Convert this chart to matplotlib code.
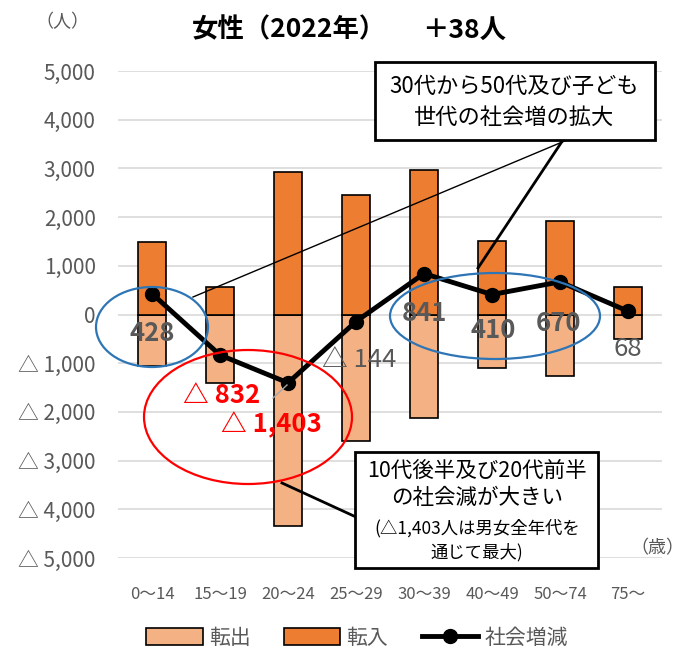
import matplotlib
matplotlib.use("Agg")
import matplotlib.pyplot as plt
from matplotlib.patches import Ellipse, Rectangle
from matplotlib.lines import Line2D
from matplotlib.ticker import FuncFormatter

plt.rcParams['font.family'] = ['Noto Sans CJK JP', 'DejaVu Sans']

# Age groups and migration counts (women, 2022)
age_groups = ["0～14", "15～19", "20～24", "25～29", "30～39", "40～49", "50～74", "75～"]
moved_out = [-1052, -1402, -4333, -2604, -2119, -1100, -1260, -502]
moved_in = [1480, 570, 2930, 2460, 2960, 1510, 1930, 570]
net_change = [428, -832, -1403, -144, 841, 410, 670, 68]
y_ticks = [5000, 4000, 3000, 2000, 1000, 0, -1000, -2000, -3000, -4000, -5000]

W, H = 686, 655
fig = plt.figure(figsize=(W / 100, H / 100), dpi=100)


def fx(px):
    return px / W


def fy(py):
    return 1 - py / H


ax = fig.add_axes([fx(118), fy(558), 544 / W, 487 / H])

C_OUT = "#F4B183"
C_IN = "#ED7D31"
GRAY = "#595959"
BLUE = "#2E75B6"
RED = "#FF0000"

x = list(range(len(age_groups)))
bw = 0.41
ax.bar(x, moved_out, width=bw, color=C_OUT, edgecolor="black", linewidth=1.2, zorder=2, label="転出")
ax.bar(x, moved_in, width=bw, color=C_IN, edgecolor="black", linewidth=1.2, zorder=2, label="転入")
ax.plot(x, net_change, color="black", linewidth=3.5, marker="o", markersize=10, zorder=4, label="社会増減")

ax.set_xlim(-0.5, len(age_groups) - 0.5)
ax.set_ylim(min(y_ticks), max(y_ticks))
ax.set_yticks(y_ticks)


def fmt(v, pos=None):
    v = int(round(v))
    if v < 0:
        return "△ {:,}".format(-v)
    return "{:,}".format(v)


ax.yaxis.set_major_formatter(FuncFormatter(fmt))
ax.set_xticks(x)
ax.set_xticklabels(age_groups)
ax.grid(axis="y", color="#D9D9D9", linewidth=1.2, zorder=0)
ax.set_axisbelow(True)
for s in ax.spines.values():
    s.set_visible(False)
ax.tick_params(axis="y", length=0, pad=16, labelsize=15, labelcolor=GRAY)
ax.tick_params(axis="x", length=0, pad=20, labelsize=12, labelcolor=GRAY)

# Net change labels
label_offsets = [(0, -29), (1, -29), (-12, -30), (2, -28), (0, -29), (1, -26), (-1, -30), (0, -27)]
label_colors = [GRAY, RED, RED, GRAY, GRAY, GRAY, GRAY, GRAY]
label_weights = ["bold", "bold", "bold", "normal", "bold", "bold", "bold", "normal"]
for i, v in enumerate(net_change):
    ax.annotate(fmt(v), (i, v), xytext=label_offsets[i], textcoords="offset points",
                ha="center", va="center", fontsize=18.5, color=label_colors[i],
                fontweight=label_weights[i], zorder=6)

# Title and unit labels
fig.text(fx(192), fy(30), "女性（2022年）", fontsize=19, fontweight="bold", ha="left", va="center")
fig.text(fx(422), fy(30), "＋38人", fontsize=19, fontweight="bold", ha="left", va="center")
fig.text(fx(62), fy(22), "（人）", fontsize=13, color=GRAY, ha="center", va="center")
fig.text(fx(657), fy(548), "（歳）", fontsize=13, color=GRAY, ha="center", va="center")

# Highlight ellipses
for (cx, cy, w, h, col) in [(152, 327, 112, 80, BLUE), (495, 316, 210, 86, BLUE), (248, 417, 208, 134, RED)]:
    fig.add_artist(Ellipse((fx(cx), fy(cy)), w / W, h / H, transform=fig.transFigure,
                           fill=False, edgecolor=col, linewidth=1.6, zorder=7))

# Callout connectors
for (p0, p1, lw, col) in [((567, 140), (193, 297), 1.0, "black"),
                          ((563, 140), (478, 268), 2.0, "black"),
                          ((356, 517), (282, 483), 2.0, "black"),
                          ((273, 398), (287, 385), 1.0, "#A6A6A6")]:
    fig.add_artist(Line2D([fx(p0[0]), fx(p1[0])], [fy(p0[1]), fy(p1[1])],
                          transform=fig.transFigure, color=col, linewidth=lw, zorder=8))

# Callout boxes
fig.add_artist(Rectangle((fx(375), fy(140)), 280 / W, 78 / H, transform=fig.transFigure,
                         facecolor="white", edgecolor="black", linewidth=2, zorder=9))
fig.text(fx(514), fy(86), "30代から50代及び子ども", fontsize=16, ha="center", va="center", zorder=10)
fig.text(fx(514), fy(117), "世代の社会増の拡大", fontsize=16, ha="center", va="center", zorder=10)

fig.add_artist(Rectangle((fx(355), fy(568)), 243 / W, 116 / H, transform=fig.transFigure,
                         facecolor="white", edgecolor="black", linewidth=2, zorder=9))
fig.text(fx(477), fy(471), "10代後半及び20代前半", fontsize=15.5, ha="center", va="center", zorder=10)
fig.text(fx(477), fy(498), "の社会減が大きい", fontsize=15.5, ha="center", va="center", zorder=10)
fig.text(fx(477), fy(528), "(△1,403人は男女全年代を", fontsize=12.5, ha="center", va="center", zorder=10)
fig.text(fx(477), fy(552), "通じて最大)", fontsize=12.5, ha="center", va="center", zorder=10)

# Legend
handles, labels = ax.get_legend_handles_labels()
order = [labels.index(n) for n in ["転出", "転入", "社会増減"]]
fig.legend([handles[i] for i in order], [labels[i] for i in order], loc="center",
           bbox_to_anchor=(fx(357), fy(638)), ncol=3,
           frameon=False, fontsize=15, handlelength=2.7, handleheight=0.9,
           columnspacing=1.6, handletextpad=0.3, labelcolor=GRAY)

fig.savefig("out.png", dpi=100)
